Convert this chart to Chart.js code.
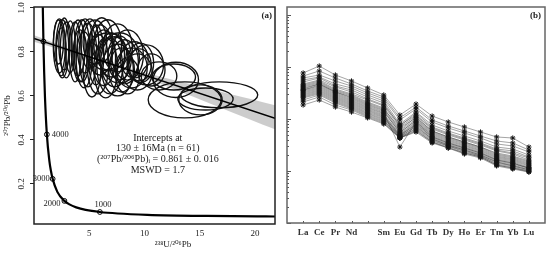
<!DOCTYPE html>
<html>
<head>
<meta charset="utf-8">
<script src="https://cdn.jsdelivr.net/npm/chart.js@4.4.1/dist/chart.umd.min.js"></script>
<style>
  html, body { margin: 0; padding: 0; background: #fff; }
  #wrap { position: relative; width: 550px; height: 253px; }
  #ca { position: absolute; left: 0; top: 0; }
  #cb { position: absolute; left: 280px; top: 0; }
</style>
</head>
<body>
<div id="wrap">
  <canvas id="ca" width="280" height="253"></canvas>
  <canvas id="cb" width="270" height="253"></canvas>
</div>
<script>
// ---- panel (a): Tera-Wasserburg ----
var concX = [0.784, 0.806, 0.853, 0.918, 0.99, 1.163, 1.387, 1.525, 1.687, 2.111, 2.749, 3.206, 3.817, 4.673, 5.959, 7.568, 10.25, 15.62, 20.99, 22.53];
var concY = [1.046, 0.974, 0.845, 0.709, 0.597, 0.425, 0.306, 0.261, 0.223, 0.164, 0.123, 0.1071, 0.0936, 0.0822, 0.0725, 0.0658, 0.0599, 0.0547, 0.0523, 0.0519];
var ageX = [1.163, 1.687, 2.749, 5.959, 0.852];
var ageY = [0.425, 0.223, 0.123, 0.0725, 0.847];
var ageLabels = ['4000', '3000', '2000', '1000', ''];
var discX = [0, 21.8];
var discY = [0.861, 0.498];
var bandX = [0, 7, 21.8];
var bandHi = [0.876, 0.750, 0.558];
var bandLo = [0.846, 0.738, 0.448];
var ellX = [2.29,2.56,2.74,2.47,2.92,2.21,3.99,4.35,4.62,4.88,4.17,5.06,4.53,5.51,5.96,6.31,6.67,7.03,5.78,7.29,7.56,6.49,7.74,6.13,6.85,8.19,8.46,7.92,8.81,9.08,9.35,8.46,9.53,10.15,12.83,13.63,12.65,15.51,16.76,15.06,11.31,10.6,5.6,6.67,7.56,3.28,3.72,5.24,7.74,9.62];
var ellY = [0.827,0.814,0.836,0.80,0.809,0.845,0.818,0.805,0.827,0.786,0.782,0.836,0.764,0.845,0.809,0.773,0.832,0.786,0.745,0.755,0.818,0.727,0.773,0.855,0.736,0.755,0.786,0.718,0.727,0.764,0.709,0.691,0.741,0.741,0.673,0.582,0.686,0.586,0.605,0.582,0.691,0.718,0.786,0.80,0.718,0.823,0.80,0.718,0.773,0.75];
var ellRx = [0.54,0.58,0.49,0.45,0.54,0.45,0.63,0.71,0.71,0.80,0.63,0.80,0.71,1.07,1.16,1.07,1.25,1.16,0.98,1.25,1.34,1.07,1.07,0.98,1.16,1.25,1.43,1.16,1.43,1.25,1.34,1.07,1.07,1.56,2.05,3.30,1.96,2.5,3.48,1.96,1.61,1.25,0.71,1.7,1.43,0.45,0.54,0.80,1.79,1.2];
var ellRy = [0.123,0.132,0.118,0.109,0.127,0.10,0.127,0.141,0.123,0.145,0.118,0.114,0.127,0.10,0.114,0.127,0.114,0.10,0.136,0.114,0.109,0.136,0.10,0.10,0.127,0.10,0.114,0.10,0.091,0.082,0.082,0.082,0.073,0.091,0.080,0.082,0.059,0.05,0.059,0.068,0.064,0.073,0.136,0.086,0.118,0.118,0.136,0.123,0.114,0.09];
var xTicksA = [5, 10, 15, 20];
var yTicksA = [0.2, 0.4, 0.6, 0.8, 1.0];
var interceptText = ['Intercepts at', '130 \u00b1 16Ma (n = 61)', '(\u00b2\u2070\u2077Pb/\u00b2\u2070\u2076Pb)\u1d62 = 0.861 \u00b1 0. 016', 'MSWD = 1.7'];

// ---- panel (b): REE patterns ----
var reeLabels = ['La', 'Ce', 'Pr', 'Nd', '', 'Sm', 'Eu', 'Gd', 'Tb', 'Dy', 'Ho', 'Er', 'Tm', 'Yb', 'Lu'];
var reeSamples = [
  [767, 1045, 702, 538, 395, 290, 119, 194, 114, 87.6, 70.2, 56.2, 45.1, 43.1, 28.9],
  [671, 838, 615, 471, 346, 265, 105, 170, 95.7, 73.4, 58.8, 47.1, 37.8, 34.6, 25.3],
  [615, 702, 538, 431, 317, 243, 95.7, 156, 87.6, 67.1, 53.8, 43.1, 33.1, 30.3, 23.2],
  [562, 642, 471, 395, 290, 222, 80.1, 136, 76.7, 58.8, 47.1, 37.8, 28.9, 26.5, 20.3],
  [515, 615, 431, 361, 265, 203, 73.4, 130, 70.2, 53.8, 43.1, 34.6, 26.5, 24.3, 18.6],
  [471, 562, 413, 331, 243, 186, 76.7, 119, 67.1, 51.5, 41.3, 33.1, 25.3, 22.2, 17.8],
  [451, 538, 378, 303, 232, 178, 70.2, 114, 64.2, 49.3, 39.5, 31.6, 24.3, 21.2, 16.3],
  [431, 515, 361, 290, 212, 163, 61.5, 109, 58.8, 45.1, 36.1, 28.9, 22.2, 19.4, 15.6],
  [413, 493, 346, 277, 203, 156, 67.1, 105, 58.8, 45.1, 36.1, 28.9, 21.2, 18.6, 14.9],
  [395, 471, 331, 265, 194, 149, 58.8, 100, 56.2, 43.1, 34.6, 27.7, 20.3, 17.8, 14.2],
  [378, 471, 331, 254, 186, 143, 53.8, 95.7, 53.8, 41.3, 33.1, 26.5, 19.4, 17.0, 13.6],
  [361, 451, 317, 243, 178, 136, 56.2, 91.5, 51.5, 39.5, 31.6, 25.3, 18.6, 16.3, 13.0],
  [361, 431, 303, 232, 170, 130, 28.9, 87.6, 49.3, 37.8, 30.3, 24.3, 17.8, 15.6, 12.5],
  [346, 413, 290, 222, 163, 125, 51.5, 87.6, 47.1, 36.1, 28.9, 23.2, 17.0, 14.9, 11.9],
  [331, 395, 277, 212, 156, 119, 49.3, 83.8, 45.1, 34.6, 27.7, 22.2, 16.3, 14.2, 11.4],
  [317, 378, 265, 203, 149, 114, 47.1, 80.1, 45.1, 34.6, 27.7, 22.2, 16.3, 14.2, 11.4],
  [303, 361, 254, 194, 143, 109, 49.3, 76.7, 43.1, 33.1, 26.5, 21.2, 15.6, 13.6, 11.4],
  [290, 346, 243, 186, 136, 105, 45.1, 73.4, 41.3, 31.6, 25.3, 20.3, 14.9, 13.0, 10.9],
  [277, 331, 232, 178, 130, 100, 47.1, 70.2, 41.3, 31.6, 25.3, 20.3, 14.9, 12.5, 10.5],
  [265, 317, 222, 170, 125, 95.7, 43.1, 67.1, 39.5, 30.3, 24.3, 19.4, 14.2, 12.5, 10.5],
  [254, 303, 212, 163, 119, 91.5, 45.1, 64.2, 37.8, 30.3, 23.2, 19.4, 13.6, 11.9, 10.0],
  [232, 290, 203, 156, 114, 87.6, 43.1, 61.5, 36.1, 28.9, 22.2, 18.6, 13.0, 11.4, 10.0],
  [212, 265, 186, 149, 109, 83.8, 43.1, 58.8, 36.1, 27.7, 22.2, 18.6, 13.0, 11.4, 9.57],
  [186, 232, 170, 136, 105, 80.1, 43.1, 56.2, 34.6, 27.7, 21.2, 17.8, 12.5, 10.9, 9.57]
];

var serif = '"Liberation Serif", "DejaVu Serif", serif';

function pts(xs, ys) {
  return xs.map(function (x, i) { return { x: x, y: ys[i] }; });
}

// ellipses go right after the band, under the lines
var ellipsePlugin = {
  id: 'ellipses',
  afterDatasetDraw: function (chart, args) {
    if (args.index !== 3) return;
    var c = chart.ctx, xs = chart.scales.x, ys = chart.scales.y, a = chart.chartArea;
    c.save();
    c.beginPath();
    c.rect(a.left, a.top, a.right - a.left, a.bottom - a.top);
    c.clip();
    c.strokeStyle = '#111';
    c.lineWidth = 1.35;
    for (var i = 0; i < ellX.length; i++) {
      var cx = xs.getPixelForValue(ellX[i]);
      var cy = ys.getPixelForValue(ellY[i]);
      var rx = Math.abs(xs.getPixelForValue(ellX[i] + ellRx[i]) - cx);
      var ry = Math.abs(ys.getPixelForValue(ellY[i] + ellRy[i]) - cy);
      c.beginPath();
      c.ellipse(cx, cy, rx, ry, 0, 0, Math.PI * 2);
      c.stroke();
    }
    c.restore();
  }
};

var textPluginA = {
  id: 'textA',
  afterDraw: function (chart) {
    var c = chart.ctx, a = chart.chartArea, xs = chart.scales.x, ys = chart.scales.y;
    c.save();
    c.strokeStyle = '#222';
    c.lineWidth = 1.5;
    c.strokeRect(a.left, a.top, a.right - a.left, a.bottom - a.top);
    c.fillStyle = '#222';
    // rotated y tick labels
    c.font = '9px ' + serif;
    c.textAlign = 'center';
    c.textBaseline = 'middle';
    yTicksA.forEach(function (v) {
      c.save();
      c.translate(22, ys.getPixelForValue(v));
      c.rotate(-Math.PI / 2);
      c.fillText(v.toFixed(1), 0, 0);
      c.restore();
    });
    // concordia age labels
    var meta = chart.getDatasetMeta(2);
    c.font = '8.5px ' + serif;
    meta.data.forEach(function (p, i) {
      var t = ageLabels[i];
      if (!t) return;
      if (i === 0) { c.textAlign = 'left'; c.fillText(t, p.x + 5, p.y); }
      else if (i === 1) { c.textAlign = 'right'; c.fillText(t, p.x - 3, p.y); }
      else if (i === 2) { c.textAlign = 'right'; c.fillText(t, p.x - 4, p.y + 3); }
      else { c.textAlign = 'center'; c.fillText(t, p.x + 3, p.y - 7); }
    });
    // intercept text block
    c.font = '10px ' + serif;
    c.textAlign = 'center';
    var tx = xs.getPixelForValue(11.2);
    interceptText.forEach(function (t, i) {
      c.fillText(t, tx, 138 + i * 10.8);
    });
    // panel tag and x title
    c.font = 'bold 9px ' + serif;
    c.textAlign = 'right';
    c.fillText('(a)', a.right - 3, 16);
    c.font = '9px ' + serif;
    c.textAlign = 'center';
    c.fillText('\u00b2\u00b3\u2078U/\u00b2\u2070\u2076Pb', 173, 245);
    c.restore();
  }
};

new Chart(document.getElementById('ca').getContext('2d'), {
  type: 'scatter',
  data: {
    datasets: [
      { data: pts(concX, concY), showLine: true, borderColor: '#000', borderWidth: 2.2, pointRadius: 0, cubicInterpolationMode: 'monotone' },
      { data: pts(discX, discY), showLine: true, borderColor: '#000', borderWidth: 1.4, pointRadius: 0 },
      { data: pts(ageX, ageY), showLine: false, pointStyle: 'circle', pointRadius: 2.4, backgroundColor: '#fff', borderColor: '#000', borderWidth: 1 },
      { data: pts(bandX, bandHi), showLine: true, borderWidth: 0, borderColor: 'rgba(0,0,0,0)', pointRadius: 0, tension: 0.4 },
      { data: pts(bandX, bandLo), showLine: true, borderWidth: 0, borderColor: 'rgba(0,0,0,0)', pointRadius: 0, tension: 0.4, fill: '-1', backgroundColor: 'rgba(170,170,170,0.6)' }
    ]
  },
  options: {
    responsive: false,
    animation: false,
    layout: { padding: { top: 7, right: 3, left: 0, bottom: 0 } },
    plugins: { legend: { display: false }, tooltip: { enabled: false } },
    scales: {
      x: {
        type: 'linear', min: 0, max: 21.8,
        afterBuildTicks: function (s) { s.ticks = xTicksA.map(function (v) { return { value: v }; }); },
        afterFit: function (s) { s.height = 29; },
        grid: { display: false, drawTicks: false },
        border: { display: false },
        ticks: { padding: 4, color: '#222', font: { family: serif, size: 9 } }
      },
      y: {
        type: 'linear', min: 0.018, max: 1.004,
        afterBuildTicks: function (s) { s.ticks = yTicksA.map(function (v) { return { value: v }; }); },
        afterFit: function (s) { s.width = 34; },
        grid: { display: true, drawOnChartArea: false, drawTicks: true, tickLength: 4, color: '#222', lineWidth: 1 },
        border: { display: false },
        ticks: { display: false },
        title: { display: true, text: '\u00b2\u2070\u2077Pb/\u00b2\u2070\u2076Pb', color: '#222', font: { family: serif, size: 9 }, padding: { top: 2, bottom: 2 } }
      }
    }
  },
  plugins: [ellipsePlugin, textPluginA]
});

// ---- panel (b) ----
var framePluginB = {
  id: 'frameB',
  afterDraw: function (chart) {
    var c = chart.ctx, a = chart.chartArea, ys = chart.scales.y, xs = chart.scales.x;
    c.save();
    c.strokeStyle = '#555';
    c.lineWidth = 1;
    for (var e = 0; e <= 4; e++) {
      for (var m = 1; m <= 9; m++) {
        var v = m * Math.pow(10, e);
        if (v > ys.max) continue;
        var py = Math.round(ys.getPixelForValue(v)) + 0.5;
        c.beginPath();
        c.moveTo(a.left, py);
        c.lineTo(a.left + (m === 1 ? 4 : 2), py);
        c.stroke();
      }
    }
    for (var k = 1; k <= reeLabels.length; k++) {
      var px = Math.round(xs.getPixelForValue(k)) + 0.5;
      c.beginPath();
      c.moveTo(px, a.bottom);
      c.lineTo(px, a.bottom - 2);
      c.stroke();
    }
    c.strokeStyle = '#666';
    c.lineWidth = 1.5;
    c.strokeRect(a.left, a.top, a.right - a.left, a.bottom - a.top);
    c.fillStyle = '#222';
    c.font = 'bold 9px ' + serif;
    c.textAlign = 'right';
    c.textBaseline = 'middle';
    c.fillText('(b)', a.right - 4, 16);
    c.restore();
  }
};

new Chart(document.getElementById('cb').getContext('2d'), {
  type: 'line',
  data: {
    datasets: reeSamples.map(function (s) {
      return {
        data: s.map(function (v, i) { return { x: i + 1, y: v }; }),
        borderColor: 'rgba(45,45,45,0.55)',
        borderWidth: 0.8,
        pointStyle: 'star',
        pointRadius: 2.6,
        pointBorderColor: '#111',
        pointBackgroundColor: '#111',
        pointBorderWidth: 1
      };
    })
  },
  options: {
    responsive: false,
    animation: false,
    layout: { padding: { top: 7, right: 3, left: 0, bottom: 0 } },
    plugins: { legend: { display: false }, tooltip: { enabled: false } },
    scales: {
      x: {
        type: 'linear', min: 0, max: 16,
        afterBuildTicks: function (s) { s.ticks = reeLabels.map(function (l, i) { return { value: i + 1 }; }); },
        afterFit: function (s) { s.height = 30; },
        grid: { display: false, drawTicks: false },
        border: { display: false },
        ticks: {
          autoSkip: false, maxRotation: 0, padding: 4, color: '#333',
          font: { family: serif, size: 9, weight: 'bold' },
          callback: function (v) { return reeLabels[v - 1]; }
        }
      },
      y: {
        type: 'logarithmic', min: 1, max: 14250,
        afterFit: function (s) { s.width = 7; },
        grid: { display: false },
        border: { display: false },
        ticks: { display: false }
      }
    }
  },
  plugins: [framePluginB]
});
</script>
</body>
</html>
